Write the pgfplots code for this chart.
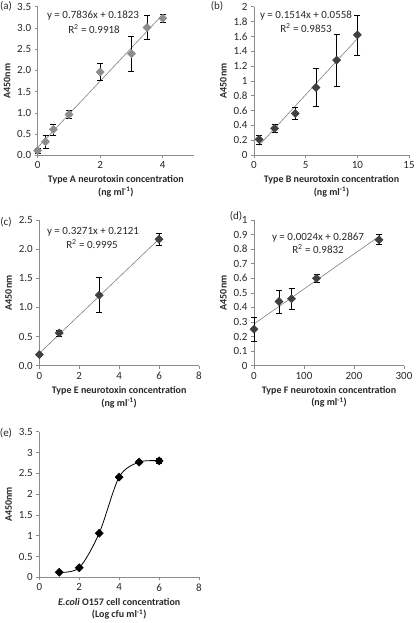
\documentclass[border=0pt]{standalone}
\usepackage{fontspec}
\setmainfont{Carlito}
\usepackage{pgfplots}
\pgfplotsset{compat=1.18}
\definecolor{mkA}{RGB}{140,140,140}
\definecolor{mkD}{RGB}{64,64,64}
\definecolor{axc}{RGB}{140,140,140}
\definecolor{txt}{RGB}{40,40,40}
\pgfplotsset{exc/.style={
  scale only axis, axis lines=left, axis line style={-, draw=axc, line width=0.6pt},
  tick style={draw=axc, line width=0.6pt}, tick align=outside, major tick length=3pt,
  ticklabel style={font=\fontsize{11}{13}\selectfont, text=txt},
  /pgf/number format/assume math mode=true,
  xlabel style={font=\bfseries\fontsize{10}{12.5}\selectfont, align=center, text=txt},
  ylabel style={font=\bfseries\fontsize{10}{12}\selectfont, text=txt},
  ylabel={A450nm},
  clip=false,
  minor tick num=0,
}}
\pgfplotsset{
  errp/.style={only marks, mark=square*, mark size=2.9pt, mark options={rotate=45, fill=#1, draw=#1},
    error bars/.cd, y dir=both, y explicit,
    error bar style={black, line width=0.7pt},
    error mark options={rotate=90, black, mark size=3pt, line width=0.7pt}},
  trend/.style={draw=gray, line width=0.6pt, no marks},
}
\begin{document}
\begin{tikzpicture}[x=1pt,y=1pt]
\path[use as bounding box] (0,0) rectangle (416,-623);
\tikzset{eq/.style={font=\fontsize{11}{13}\selectfont, text=txt}}
% (a)
\begin{axis}[exc, at={(37.7pt,-155.3pt)}, anchor=south west, width=156.3pt, height=148.6pt,
  xmin=0, xmax=5, xtick={0,2,4}, ymin=0, ymax=3.5, ytick={0,0.5,1,1.5,2,2.5,3,3.5},
  yticklabel style={/pgf/number format/.cd, fixed, fixed zerofill, precision=1},
  xlabel={Type A neurotoxin concentration\\(ng ml\textsuperscript{-1})}]
\addplot[trend] coordinates {(0,0.1823) (4,3.3167)};
\addplot[errp=mkA] table[x=x, y=y, y error=e] {
x y e
0 0.11 0.06
0.25 0.32 0.16
0.5 0.61 0.13
1 0.96 0.10
2 1.96 0.20
3 2.39 0.41
3.5 3.01 0.29
4 3.23 0.10
};
\end{axis}
\node[eq] at (6,-6) {(a)};
\node[eq] at (93,-16) {y = 0.7836x + 0.1823};
\node[eq] at (94,-29) {R\textsuperscript{2} = 0.9918};
% (b)
\begin{axis}[exc, at={(254pt,-155pt)}, anchor=south west, width=155pt, height=148.3pt,
  xmin=0, xmax=15, xtick={0,5,10,15}, ymin=0, ymax=2, ytick={0,0.2,0.4,0.6,0.8,1,1.2,1.4,1.6,1.8,2},
  xlabel={Type B neurotoxin concentration\\(ng ml\textsuperscript{-1})}]
\addplot[trend] coordinates {(0.5,0.1315) (10,1.5698)};
\addplot[errp=mkD] table[x=x, y=y, y error=e] {
x y e
0.5 0.21 0.06
2 0.36 0.06
4 0.56 0.08
6 0.91 0.26
8 1.28 0.35
10 1.62 0.27
};
\end{axis}
\node[eq] at (217,-6) {(b)};
\node[eq] at (306,-16) {y = 0.1514x + 0.0558};
\node[eq] at (306,-28) {R\textsuperscript{2} = 0.9853};
% (c)
\begin{axis}[exc, at={(39.3pt,-365.7pt)}, anchor=south west, width=159.7pt, height=145.7pt,
  xmin=0, xmax=8, xtick={0,2,4,6,8}, ymin=0, ymax=2.5, ytick={0,0.5,1,1.5,2,2.5},
  yticklabel style={/pgf/number format/.cd, fixed, fixed zerofill, precision=1},
  xlabel={Type E neurotoxin concentration\\(ng ml\textsuperscript{-1})}]
\addplot[trend] coordinates {(0,0.2121) (6,2.1747)};
\addplot[errp=mkD] table[x=x, y=y, y error=e] {
x y e
0 0.19 0.01
1 0.56 0.05
3 1.21 0.30
6 2.17 0.10
};
\end{axis}
\node[eq] at (6,-222) {(c)};
\node[eq] at (93,-232) {y = 0.3271x + 0.2121};
\node[eq] at (92,-244) {R\textsuperscript{2} = 0.9995};
% (d)
\begin{axis}[exc, at={(254pt,-365.7pt)}, anchor=south west, width=150pt, height=145.7pt,
  xmin=0, xmax=300, xtick={0,100,200,300}, ymin=0, ymax=1, ytick={0,0.1,0.2,0.3,0.4,0.5,0.6,0.7,0.8,0.9,1},
  xlabel={Type F neurotoxin concentration\\(ng ml\textsuperscript{-1})}]
\addplot[trend] coordinates {(0,0.2867) (250,0.8867)};
\addplot[errp=mkD] table[x=x, y=y, y error=e] {
x y e
0 0.25 0.085
50 0.44 0.08
75 0.46 0.07
125 0.60 0.03
250 0.865 0.035
};
\end{axis}
\node[eq] at (236,-216) {(d)};
\node[eq] at (318,-238) {y = 0.0024x + 0.2867};
\node[eq] at (318,-249) {R\textsuperscript{2} = 0.9832};
% (e)
\begin{axis}[exc, at={(39.3pt,-577.3pt)}, anchor=south west, width=159.7pt, height=145.6pt,
  xmin=0, xmax=8, xtick={0,2,4,6,8}, ymin=0, ymax=3.5, ytick={0,0.5,1,1.5,2,2.5,3,3.5},
  xlabel={\textit{E.coli} O157 cell concentration\\(Log cfu ml\textsuperscript{-1})}]
\addplot[black, line width=0.8pt, smooth, tension=0.5] coordinates {(1,0.12) (2,0.23) (3,1.06) (4,2.41) (5,2.77) (6,2.80)};
\addplot[errp=black] table[x=x, y=y, y error=e] {
x y e
1 0.12 0.02
2 0.23 0.02
3 1.06 0.02
4 2.41 0.02
5 2.77 0.03
6 2.80 0.05
};
\end{axis}
\node[eq] at (6,-433) {(e)};
\end{tikzpicture}
\end{document}
